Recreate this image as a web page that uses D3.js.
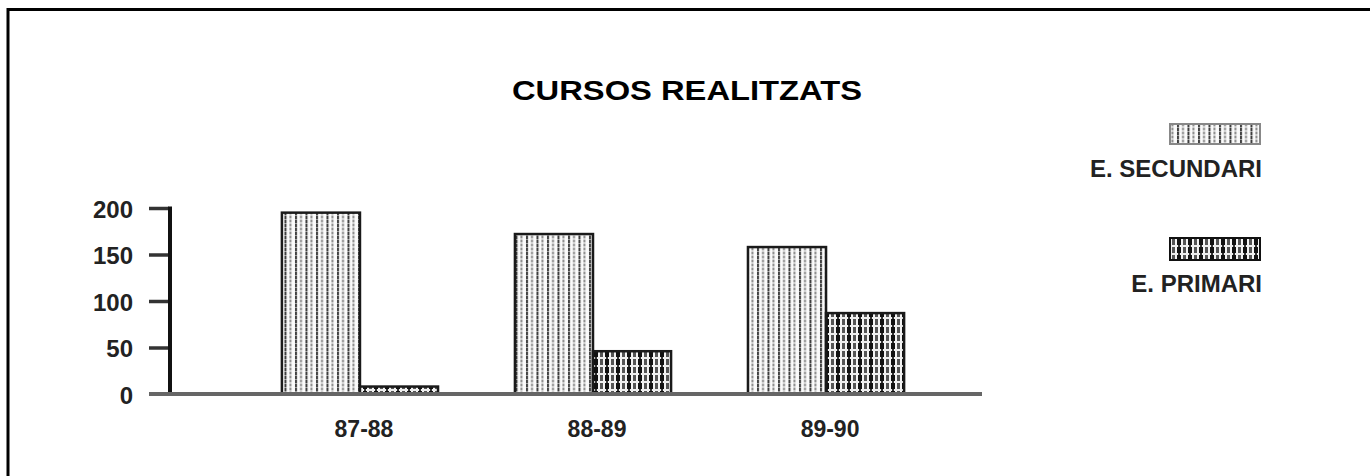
<!DOCTYPE html>
<html><head><meta charset="utf-8">
<script src="https://cdn.jsdelivr.net/npm/d3@7"></script>
<style>body{margin:0;background:#fff;}svg{display:block;}</style>
</head><body>
<svg id="c" width="1370" height="476"></svg>
<script>
const title = "CURSOS REALITZATS";
const categories = ["87-88", "88-89", "89-90"];
const seriesNames = ["E. SECUNDARI", "E. PRIMARI"];
const secundari = [195, 172, 158];
const primari = [8, 46, 87];
const yTicks = [0, 50, 100, 150, 200];

const FONT = "Liberation Sans, Arial, sans-serif";
const svg = d3.select("#c");
const defs = svg.append("defs");

// pattern: secundari (light, vertical dotted lines)
const p1 = defs.append("pattern").attr("id","pSec").attr("patternUnits","userSpaceOnUse")
  .attr("width",10.5).attr("height",4);
p1.append("rect").attr("width",10.5).attr("height",4).attr("fill","#fbfbfb");
p1.append("rect").attr("x",1).attr("y",0).attr("width",2).attr("height",3).attr("fill","#3a3a3a");
p1.append("rect").attr("x",1).attr("y",3).attr("width",2).attr("height",1).attr("fill","#999");
p1.append("rect").attr("x",6).attr("y",0).attr("width",2).attr("height",2).attr("fill","#8a8a8a");
p1.append("rect").attr("x",6).attr("y",2).attr("width",2).attr("height",2).attr("fill","#c8c8c8");

// pattern: primari (dark with white grid)
const p2 = defs.append("pattern").attr("id","pPri").attr("patternUnits","userSpaceOnUse")
  .attr("width",11).attr("height",8);
p2.append("rect").attr("width",11).attr("height",8).attr("fill","#f4f4f4");
p2.append("rect").attr("x",0).attr("y",0).attr("width",4).attr("height",8).attr("fill","#111");
p2.append("rect").attr("x",6).attr("y",0).attr("width",3).attr("height",8).attr("fill","#555");
p2.append("rect").attr("x",0).attr("y",5).attr("width",11).attr("height",2).attr("fill","#eee");
p2.append("rect").attr("x",1).attr("y",5).attr("width",2).attr("height",2).attr("fill","#333");

// frame (only top/left visible)
svg.append("path").attr("d","M8,480 V9.5 H1380").attr("fill","none").attr("stroke","#000").attr("stroke-width",3);

// title
svg.append("text").attr("x",687).attr("y",100).attr("text-anchor","middle")
  .attr("font-family",FONT).attr("font-weight","bold")
  .attr("font-size",27).attr("textLength",350).attr("lengthAdjust","spacingAndGlyphs")
  .attr("fill","#000").text(title);

const y = d3.scaleLinear().domain([0,200]).range([394,208]);
const x0 = d3.scaleBand().domain(categories).range([205,981]).paddingInner(0.33).paddingOuter(0.33);
const x1 = d3.scaleBand().domain(seriesNames).range([0,x0.bandwidth()]);

// y axis
const yAxis = d3.axisLeft(y).tickValues(yTicks).tickSize(20).tickPadding(16);
const gy = svg.append("g").attr("transform","translate(169,0)").call(yAxis);
gy.select(".domain").remove();
gy.selectAll(".tick line").attr("stroke","#333").attr("stroke-width",3.5);
gy.selectAll(".tick text").attr("font-family",FONT)
  .attr("font-weight","bold").attr("font-size",24).attr("fill","#222").attr("dy","0.38em");
gy.selectAll(".tick").filter(d=>d===0).select("line").remove();
svg.append("line").attr("x1",170).attr("x2",170).attr("y1",y(200)-1.5).attr("y2",y(0)+2)
  .attr("stroke","#111").attr("stroke-width",4);

// bars
const data = categories.map((c,i)=>({c, vals:[{s:seriesNames[0],v:secundari[i]},{s:seriesNames[1],v:primari[i]}]}));
const g = svg.append("g");
data.forEach(d=>{
  d.vals.forEach(e=>{
    g.append("rect").attr("x",x0(d.c)+x1(e.s)).attr("y",y(e.v))
      .attr("width",x1.bandwidth()).attr("height",y(0)-y(e.v))
      .attr("fill", e.s===seriesNames[0] ? "url(#pSec)" : "url(#pPri)")
      .attr("stroke","#1a1a1a").attr("stroke-width",2.5);
  });
});

// baseline
svg.append("line").attr("x1",149).attr("x2",982).attr("y1",y(0)).attr("y2",y(0))
  .attr("stroke","#666").attr("stroke-width",4);

// x axis labels
const xAxis = d3.axisBottom(x0).tickSize(0).tickPadding(27);
const gx = svg.append("g").attr("transform",`translate(4,${y(0)})`).call(xAxis);
gx.select(".domain").remove();
gx.selectAll(".tick text").attr("font-family",FONT)
  .attr("font-size",23).attr("fill","#222").attr("font-weight","bold");

// legend
const legend = [{name:seriesNames[0], fill:"url(#pSec)", y:124, h:20, ty:177, stroke:"#888"},
                {name:seriesNames[1], fill:"url(#pPri)", y:238, h:22, ty:292, stroke:"#111"}];
legend.forEach((l,i)=>{
  svg.append("rect").attr("x",1170).attr("y",l.y).attr("width",90).attr("height",l.h)
    .attr("fill",l.fill).attr("stroke", l.stroke).attr("stroke-width",2);
  svg.append("text").attr("x",1262).attr("y",l.ty).attr("text-anchor","end")
    .attr("font-family",FONT).attr("font-size",24)
    .attr("font-weight","bold").attr("fill","#222").text(l.name);
});
</script>
</body></html>
